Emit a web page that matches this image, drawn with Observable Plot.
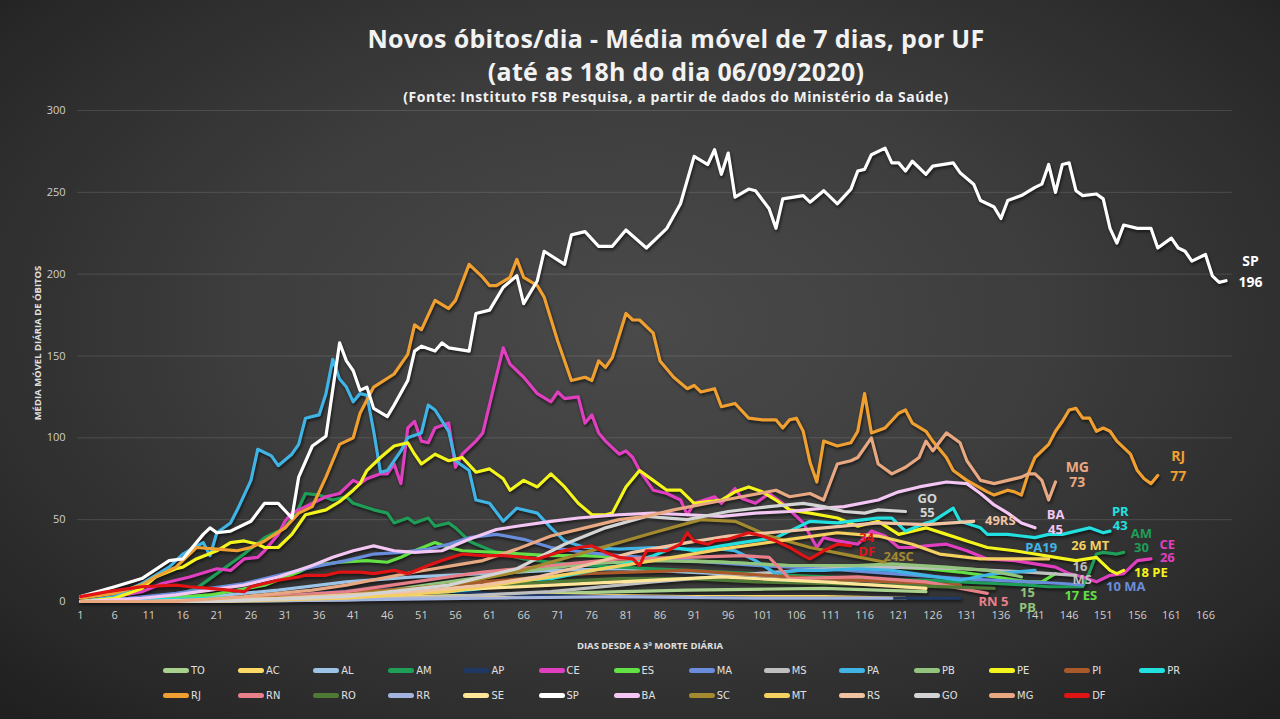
<!DOCTYPE html>
<html><head><meta charset="utf-8">
<script src="https://cdn.jsdelivr.net/npm/d3@7"></script>
<script src="https://cdn.jsdelivr.net/npm/@observablehq/plot@0.6"></script>
<style>
html,body{margin:0;padding:0;background:#222;}
#wrap{position:relative;width:1280px;height:719px;overflow:hidden;
 background:radial-gradient(ellipse 70% 75% at 50% 45%, #4a4a4a 0%, #3d3d3d 45%, #292929 85%, #202020 100%);
 font-family:"Open Sans",sans-serif;}
.t{position:absolute;left:176px;width:1000px;text-align:center;color:#f2f2f2;font-weight:700;white-space:nowrap;}
#chart{position:absolute;left:0;top:0;}
#chart g[aria-label="line"]{filter:drop-shadow(1px 2px 1.5px rgba(0,0,0,0.6));}
.axl{position:absolute;color:#e0e0e0;font-weight:700;font-size:9.5px;font-family:"Open Sans",sans-serif;white-space:nowrap;}
#legend{position:absolute;left:163px;top:664px;width:1100px;}
.li{position:absolute;display:flex;align-items:center;font-family:"DejaVu Sans Condensed","Liberation Sans Narrow",sans-serif;font-size:11px;color:#e0e0e0;}
.sw{width:26px;height:5px;border-radius:3px;margin-right:2px;}
</style></head>
<body><div id="wrap">
<div class="t" style="top:21px;font-size:25px;letter-spacing:0.3px;">Novos óbitos/dia - Média móvel de 7 dias, por UF</div>
<div class="t" style="top:54px;font-size:25px;letter-spacing:0.3px;">(até as 18h do dia 06/09/2020)</div>
<div class="t" style="top:87px;font-size:14px;letter-spacing:0.6px;">(Fonte: Instituto FSB Pesquisa, a partir de dados do Ministério da Saúde)</div>
<div id="chart"></div>
<div class="axl" style="left:650px;top:639px;transform:translateX(-50%);">DIAS DESDE A 3ª MORTE DIÁRIA</div>
<div class="axl" style="left:37px;top:343px;transform:translate(-50%,-50%) rotate(-90deg);">MÉDIA MÓVEL DIÁRIA DE ÓBITOS</div>
<div id="legend"></div>
</div>
<script>
const UF = ["TO","AC","AL","AM","AP","CE","ES","MA","MS","PA","PB","PE","PI","PR","RJ","RN","RO","RR","SE","SP","BA","SC","MT","RS","GO","MG","DF"];
const COLORS = ["#a9d18e","#ffd966","#9dc3e6","#1e9e57","#1f3864","#e040c0","#62e044","#6a8ddb","#bfbfbf","#41b4e6","#93c47d","#f5f51e","#a9592a","#22e0e0","#f0a030","#e8808a","#4f7a36","#a4b4e0","#ffe699","#ffffff","#f4c6f4","#a38a2e","#f4d060","#f0c4a2","#d4d4d4","#e8a882","#e01414"];
const X_TICKS = [1,6,11,16,21,26,31,36,41,46,51,56,61,66,71,76,81,86,91,96,101,106,111,116,121,126,131,136,141,146,151,156,161,166];
const Y_TICKS = [0,50,100,150,200,250,300];

const TO = [[1,0],[10,0],[30,1],[50,3],[70,5],[90,7],[110,8],[125,6]];
const AC = [[1,0],[10,0],[30,1],[50,3],[70,4],[90,3],[110,3],[122,2]];
const AL = [[1,0],[10,1],[20,3],[30,7],[40,12],[50,15],[60,17],[70,19],[80,20],[90,18],[100,16],[110,14],[120,12],[130,10]];
const AM = [[1,0],[10,1],[15,4],[18,8],[20,14],[22,20],[25,29],[28,39],[31,45],[33,57],[34,66],[36,65],[38,62],[40,64],[41,60],[44,56],[46,54],[47,48],[49,51],[50,48],[52,51],[53,46],[55,48],[56,45],[58,37],[59,35],[62,30],[66,26],[70,24],[75,22],[80,21],[85,20],[90,19],[95,18],[100,17],[105,16],[110,15],[115,14],[120,13],[125,13],[130,12],[135,11],[140,10],[143,9],[148,9],[149,18],[150,29],[151,30],[153,29],[154,30]];
const AP = [[1,0],[10,0],[25,2],[35,5],[45,8],[55,6],[65,4],[80,3],[100,2],[120,2],[130,2]];
const CE = [[1,0],[5,2],[10,6],[13,11],[17,15],[21,20],[23,19],[25,26],[27,27],[28,31],[30,41],[31,49],[32,54],[34,58],[37,64],[39,66],[41,74],[42,72],[43,75],[45,78],[46,78],[47,84],[48,72],[49,106],[50,110],[51,98],[52,97],[53,106],[55,109],[56,82],[57,90],[59,98],[60,103],[63,155],[64,145],[66,137],[68,127],[70,122],[71,128],[72,124],[74,125],[75,109],[76,114],[77,103],[78,98],[80,90],[81,92],[82,88],[83,80],[85,68],[87,66],[89,62],[90,53],[91,60],[94,64],[95,60],[97,69],[98,63],[100,60],[102,66],[104,60],[105,56],[107,48],[109,33],[110,39],[112,37],[115,35],[117,43],[119,40],[121,33],[123,33],[125,34],[128,35],[131,31],[134,26],[138,25],[141,23],[144,21],[146,17],[148,15],[150,12],[152,16],[154,17],[155,21],[156,25],[158,26]];
const ES = [[1,0],[10,1],[20,4],[28,10],[33,18],[35,22],[39,24],[43,25],[46,24],[48,27],[50,31],[53,36],[55,33],[57,31],[62,30],[66,29],[70,28],[75,28],[80,27],[85,26],[90,25],[95,24],[100,23],[105,22],[110,22],[115,22],[120,21],[125,20],[130,18],[135,15],[140,12],[142,12],[144,17]];
const MA = [[1,0],[8,2],[15,5],[20,8],[25,11],[30,16],[35,21],[40,25],[44,29],[48,30],[52,32],[55,35],[58,39],[62,41],[66,38],[70,33],[75,30],[80,28],[90,25],[100,22],[110,20],[120,17],[130,14],[140,12],[145,11],[148,10]];
const MS = [[1,0],[20,0],[40,1],[55,3],[70,6],[85,12],[100,17],[110,20],[120,21],[130,20],[140,18],[147,16]];
const PA = [[1,0],[6,3],[10,11],[14,21],[16,29],[19,36],[20,28],[21,42],[23,48],[24,56],[26,74],[27,93],[29,89],[30,83],[32,90],[33,96],[34,112],[36,114],[37,127],[38,148],[39,136],[40,131],[41,122],[42,127],[43,126],[44,104],[45,79],[46,80],[48,92],[49,100],[51,103],[52,120],[53,117],[55,104],[56,86],[58,80],[59,62],[61,60],[63,49],[65,57],[68,54],[70,45],[72,37],[75,33],[80,32],[85,33],[90,32],[95,32],[97,31],[100,25],[103,17],[106,19],[110,19],[115,20],[120,19],[125,16],[130,13],[135,17],[138,18],[141,19]];
const PB = [[1,0],[10,0],[30,2],[45,6],[55,12],[65,18],[75,23],[85,25],[95,24],[105,22],[115,22],[120,23],[128,21],[134,19],[138,16],[139,15]];
const PE = [[1,0],[6,2],[10,8],[12,15],[15,20],[16,21],[18,26],[21,31],[23,36],[25,37],[27,35],[28,33],[30,33],[32,41],[34,53],[37,56],[39,61],[41,68],[42,72],[43,80],[45,88],[47,95],[49,97],[50,90],[51,84],[53,90],[55,86],[57,88],[59,79],[61,81],[63,75],[64,68],[66,74],[68,70],[70,78],[72,70],[74,60],[76,53],[78,53],[79,54],[81,70],[83,80],[85,74],[87,68],[89,68],[91,60],[93,61],[95,62],[97,67],[99,70],[101,67],[103,62],[105,56],[108,54],[112,51],[115,46],[118,49],[121,41],[125,45],[128,41],[131,37],[134,33],[138,31],[141,29],[144,27],[147,25],[150,27],[152,19],[153,17],[154,19]];
const PI = [[1,0],[10,0],[30,3],[50,8],[60,12],[75,17],[90,19],[105,15],[120,12],[130,10]];
const PR = [[1,0],[20,2],[40,4],[55,6],[60,8],[66,13],[70,14],[75,18],[80,22],[85,28],[88,33],[91,31],[95,34],[98,36],[103,39],[106,45],[108,49],[112,48],[116,50],[118,51],[120,51],[122,43],[125,48],[126,49],[129,57],[130,49],[133,45],[134,41],[137,41],[139,40],[141,39],[143,41],[145,41],[147,43],[149,45],[151,42],[152,43]];
const RJ = [[1,2],[6,5],[10,10],[12,15],[15,21],[18,33],[21,32],[24,31],[26,33],[28,37],[31,45],[33,54],[35,58],[37,76],[39,96],[41,100],[42,115],[44,131],[47,139],[49,151],[50,169],[51,166],[53,184],[55,179],[56,184],[58,206],[60,198],[61,193],[62,193],[64,198],[65,209],[66,198],[68,193],[69,186],[71,159],[73,135],[75,137],[76,135],[77,147],[78,143],[79,149],[81,176],[82,172],[83,172],[85,164],[86,147],[88,137],[90,130],[91,132],[92,128],[94,130],[95,119],[97,121],[99,112],[101,111],[103,111],[104,106],[105,111],[106,112],[107,104],[108,85],[109,73],[110,98],[112,95],[114,97],[115,104],[116,127],[117,103],[119,106],[121,115],[122,117],[123,109],[125,104],[126,98],[128,88],[129,80],[131,74],[134,67],[135,65],[137,68],[138,67],[139,65],[140,78],[141,88],[143,96],[144,104],[145,110],[146,117],[147,118],[148,112],[149,112],[150,104],[151,106],[152,104],[153,98],[155,90],[156,80],[157,75],[158,72],[159,77]];
const RN = [[1,0],[10,0],[25,2],[40,6],[50,12],[60,18],[70,22],[80,26],[90,27],[98,28],[102,27],[105,14],[115,15],[125,12],[134,5]];
const RO = [[1,0],[15,0],[40,3],[55,8],[70,12],[80,14],[90,14],[100,12],[120,10],[135,8]];
const RR = [[1,0],[15,0],[40,1],[60,2],[80,3],[100,2],[120,2]];
const SE = [[1,0],[15,0],[40,3],[60,8],[80,12],[95,15],[110,12],[125,8]];
const SP = [[1,3],[6,9],[10,14],[14,25],[16,26],[19,41],[20,45],[21,42],[23,43],[26,49],[28,60],[30,60],[32,51],[33,76],[35,95],[37,101],[39,158],[40,147],[41,141],[42,129],[43,131],[44,118],[46,113],[47,120],[49,135],[50,153],[51,156],[53,153],[54,158],[55,155],[58,153],[59,176],[61,178],[63,192],[65,199],[66,182],[68,196],[69,214],[72,206],[73,224],[75,226],[77,217],[79,217],[81,227],[84,216],[87,228],[89,243],[91,272],[93,267],[94,276],[95,261],[96,274],[97,247],[99,252],[100,251],[102,240],[103,228],[104,246],[107,248],[108,244],[110,251],[112,243],[114,252],[115,263],[116,264],[117,273],[119,277],[120,268],[121,268],[122,263],[123,269],[125,261],[126,266],[129,268],[130,262],[132,255],[133,245],[135,241],[136,234],[137,245],[139,248],[141,253],[142,255],[143,267],[144,250],[145,267],[146,268],[147,251],[148,248],[150,249],[151,246],[152,228],[153,219],[154,230],[156,228],[158,228],[159,216],[161,222],[162,216],[163,214],[164,208],[166,212],[167,199],[168,195],[169,196]];
const BA = [[1,0],[10,2],[15,4],[20,7],[25,10],[30,15],[35,22],[38,27],[41,31],[44,34],[47,31],[50,30],[54,31],[58,38],[62,44],[65,46],[70,49],[74,51],[80,53],[85,54],[90,53],[95,52],[100,54],[105,55],[110,57],[113,58],[118,62],[121,67],[124,70],[128,73],[131,72],[133,66],[135,59],[137,54],[139,48],[141,45]];
const SC = [[1,0],[15,0],[40,4],[55,10],[65,18],[75,30],[85,42],[92,50],[97,49],[102,40],[108,33],[114,28],[119,24]];
const MT = [[1,0],[20,0],[40,2],[55,6],[70,15],[85,25],[95,32],[105,38],[112,42],[118,40],[123,35],[127,29],[133,26],[140,26],[143,26]];
const RS = [[1,0],[10,0],[30,2],[40,4],[50,6],[60,10],[68,15],[75,22],[82,30],[90,36],[96,40],[102,42],[110,45],[118,48],[125,47],[132,49]];
const GO = [[1,0],[20,0],[40,3],[55,10],[65,20],[72,35],[78,45],[84,52],[90,50],[96,55],[102,58],[107,60],[110,58],[113,55],[116,54],[118,56],[122,55]];
const MG = [[1,0],[15,0],[25,3],[35,7],[40,10],[50,18],[60,25],[65,32],[70,40],[75,45],[80,50],[84,52],[88,56],[93,60],[98,64],[103,68],[105,64],[108,66],[110,62],[112,84],[114,86],[115,88],[117,100],[118,84],[120,78],[122,82],[124,88],[125,98],[126,92],[128,103],[130,97],[131,86],[133,74],[135,72],[137,74],[139,76],[140,78],[141,78],[142,74],[143,62],[144,73]];
const DF = [[1,3],[5,6],[10,9],[15,10],[17,9],[20,8],[25,6],[26,9],[30,13],[33,15],[34,16],[37,16],[39,18],[42,18],[44,17],[47,19],[49,17],[52,22],[54,25],[57,29],[60,28],[63,28],[66,27],[68,26],[71,30],[74,33],[76,34],[78,30],[80,27],[82,26],[83,22],[84,31],[87,31],[89,35],[90,42],[91,37],[93,35],[94,37],[96,38],[99,42],[101,40],[103,37],[105,33],[107,28],[108,26],[110,31],[112,35],[114,34]];

const SERIES = [TO,AC,AL,AM,AP,CE,ES,MA,MS,PA,PB,PE,PI,PR,RJ,RN,RO,RR,SE,SP,BA,SC,MT,RS,GO,MG,DF];

// end-of-line annotations (day, value)
const LABELS = [
 {uf:"SP",text:"SP",day:172.6,value:208},{uf:"SP",text:"196",day:172.6,value:195},
 {uf:"RJ",text:"RJ",day:162,value:88.5},{uf:"RJ",text:"77",day:162,value:76.5},
 {uf:"MG",text:"MG",day:147.2,value:82},{uf:"MG",text:"73",day:147.2,value:73},
 {uf:"PR",text:"PR",day:153.5,value:55},{uf:"PR",text:"43",day:153.5,value:46},
 {uf:"AM",text:"AM",day:156.6,value:41.5},{uf:"AM",text:"30",day:156.6,value:33},
 {uf:"CE",text:"CE",day:160.4,value:34.5},{uf:"CE",text:"26",day:160.4,value:26.5},
 {uf:"PE",text:"18 PE",day:158,value:17.5},
 {uf:"MA",text:"10 MA",day:154.3,value:8.8},
 {uf:"ES",text:"17 ES",day:147.7,value:3.2},
 {uf:"PB",text:"15",day:139.9,value:5},{uf:"PB",text:"PB",day:139.9,value:-3.6},
 {uf:"RN",text:"RN 5",day:134.9,value:-0.5},
 {uf:"MS",text:"16",day:147.6,value:21},{uf:"MS",text:"MS",day:147.9,value:13},
 {uf:"MT",text:"26 MT",day:149.1,value:34.2},
 {uf:"PA",text:"PA19",day:141.9,value:33},
 {uf:"BA",text:"BA",day:144,value:53},{uf:"BA",text:"45",day:144,value:43.5},
 {uf:"RS",text:"49RS",day:135.9,value:49.5},
 {uf:"GO",text:"GO",day:125.2,value:63},{uf:"GO",text:"55",day:125.2,value:54},
 {uf:"SC",text:"24SC",day:121,value:27},
 {uf:"DF",text:"34",day:116.3,value:39},{uf:"DF",text:"DF",day:116.3,value:30.5}
];
const BIG = ["RJ","MG","SP"];

const rows = UF.flatMap((uf,i)=>SERIES[i].map(([day,value])=>({uf,day,value})));

const chart = Plot.plot({
  width:1280, height:650,
  marginLeft:77, marginRight:48, marginTop:110, marginBottom:49,
  style:{background:"transparent", color:"#cfcfcf", fontFamily:"Open Sans, sans-serif", fontSize:"11px", overflow:"visible"},
  x:{domain:[0.56,169.96], ticks:X_TICKS, tickFormat:d=>String(d), tickSize:0, tickPadding:10, label:null},
  y:{domain:[0,300], ticks:Y_TICKS, tickSize:0, tickPadding:12, label:null},
  color:{domain:UF, range:COLORS, legend:false},
  marks:[
    Plot.ruleY(Y_TICKS.filter(d=>d>0),{stroke:"#ffffff", strokeOpacity:0.13, strokeWidth:1}),
    Plot.line(rows,{x:"day", y:"value", z:"uf", stroke:"uf", strokeWidth:3.2, strokeLinejoin:"round", strokeLinecap:"round"}),
    Plot.text(LABELS.filter(d=>!BIG.includes(d.uf)),{x:"day", y:"value", text:"text", fill:"uf", fontSize:13, fontWeight:"bold", textAnchor:"middle", fontFamily:"Open Sans, sans-serif"}),
    Plot.text(LABELS.filter(d=>BIG.includes(d.uf)),{x:"day", y:"value", text:"text", fill:"uf", fontSize:14, fontWeight:"bold", textAnchor:"middle", fontFamily:"Open Sans, sans-serif"})
  ]
});
document.getElementById("chart").appendChild(chart);

// legend
const leg = document.getElementById("legend");
UF.forEach((uf,i)=>{
  const row = i<14?0:1, col = i<14?i:i-14;
  const el = document.createElement("div");
  el.className="li";
  el.style.left=(col*75.1)+"px";
  el.style.top=(row*25)+"px";
  el.innerHTML=`<span class="sw" style="background:${COLORS[i]}"></span><span>${uf}</span>`;
  leg.appendChild(el);
});
</script>
</body></html>
